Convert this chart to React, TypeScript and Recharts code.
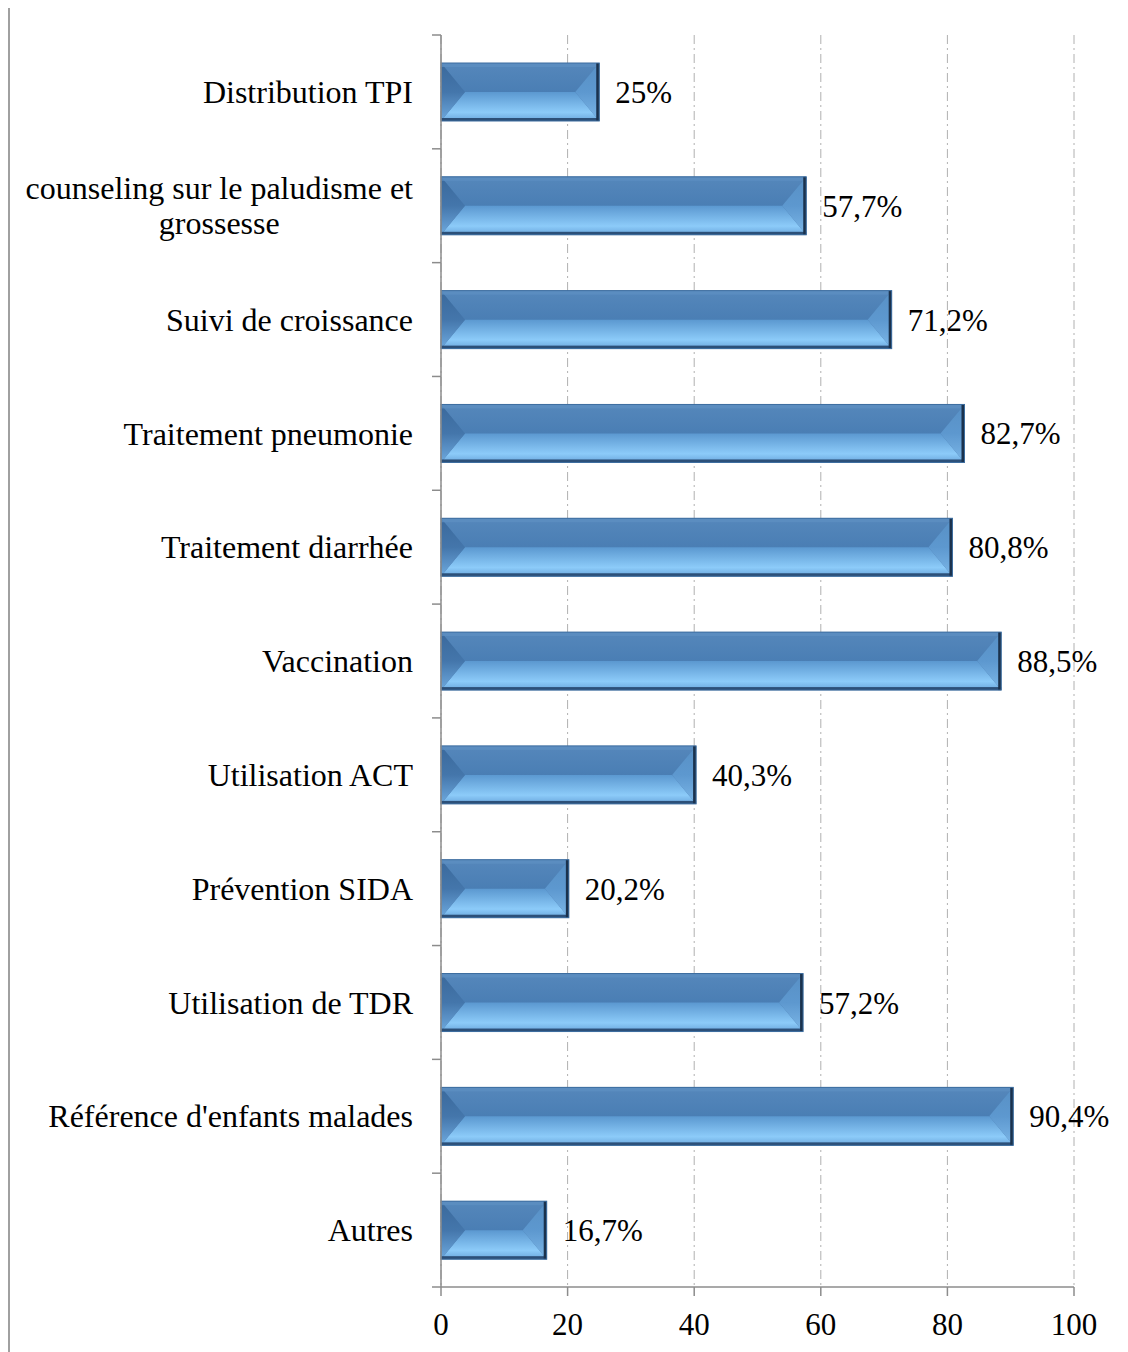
import { Bar, BarChart, CartesianGrid, LabelList, XAxis, YAxis } from "recharts";

const categories = [
  "Distribution TPI",
  "counseling sur le paludisme et grossesse",
  "Suivi de croissance",
  "Traitement pneumonie",
  "Traitement diarrhée",
  "Vaccination",
  "Utilisation ACT",
  "Prévention SIDA",
  "Utilisation de TDR",
  "Référence d'enfants malades",
  "Autres",
];
const percentages = [25, 57.7, 71.2, 82.7, 80.8, 88.5, 40.3, 20.2, 57.2, 90.4, 16.7];
const xTicks = [0, 20, 40, 60, 80, 100];

const data = categories.map((name, i) => ({ name, value: percentages[i] }));

const FONT = "'Liberation Serif', 'Times New Roman', serif";
const FONT_SIZE = 31;
const CAT_FONT_SIZE = 32;
const CHART_W = 1114;
const CHART_H = 1342;
const MARGIN = { top: 27, right: 50, bottom: 0, left: 0 };
const Y_AXIS_W = 431;
const X_AXIS_H = 63;
const PLOT_H = CHART_H - MARGIN.top - MARGIN.bottom - X_AXIS_H;
const HALF_BAND = PLOT_H / categories.length / 2;

let ctx: CanvasRenderingContext2D | null = null;
const measure = (s: string) => {
  if (!ctx) ctx = document.createElement("canvas").getContext("2d");
  if (!ctx) return s.length * 14;
  ctx.font = `${CAT_FONT_SIZE}px ${FONT}`;
  return ctx.measureText(s).width;
};

const wrap = (s: string, max = 30) => {
  const lines: string[] = [];
  let cur = "";
  s.split(" ").forEach((w) => {
    const next = cur ? `${cur} ${w}` : w;
    if (next.length > max && cur) {
      lines.push(cur);
      cur = w;
    } else cur = next;
  });
  if (cur) lines.push(cur);
  return lines;
};

const CategoryTick = (props: any) => {
  const { x, y, payload, index } = props;
  const lines = wrap(String(payload.value));
  const right = x - 28;
  const widest = Math.max(...lines.map(measure));
  const center = right - widest / 2;
  const lineH = 35;
  const start = y - ((lines.length - 1) * lineH) / 2;
  return (
    <g>
      <line x1={x - 9} x2={x} y1={y - HALF_BAND} y2={y - HALF_BAND} stroke="#8c8c8c" strokeWidth={1.5} />
      {index === categories.length - 1 ? (
        <line x1={x - 9} x2={x} y1={y + HALF_BAND} y2={y + HALF_BAND} stroke="#8c8c8c" strokeWidth={1.5} />
      ) : null}
      {lines.map((l, i) => (
        <text
          key={l}
          x={lines.length > 1 ? center : right}
          y={start + i * lineH}
          dy="0.35em"
          textAnchor={lines.length > 1 ? "middle" : "end"}
          fill="#000"
          fontSize={CAT_FONT_SIZE}
          fontFamily={FONT}
        >
          {l}
        </text>
      ))}
    </g>
  );
};

const BevelBar = (props: any) => {
  const { x, y, width: w, height: h } = props;
  if (!w || w <= 0) return null;
  const b = Math.min(24, w / 3);
  const mid = y + h / 2;
  return (
    <g>
      <rect x={x} y={y} width={w} height={h} fill="#4a7db2" />
      <polygon points={`${x},${y} ${x + w},${y} ${x + w - b},${mid} ${x + b},${mid}`} fill="url(#bvTop)" />
      <polygon points={`${x},${y + h} ${x + w},${y + h} ${x + w - b},${mid} ${x + b},${mid}`} fill="url(#bvBottom)" />
      <polygon points={`${x},${y} ${x + b},${mid} ${x},${y + h}`} fill="url(#bvLeft)" />
      <polygon points={`${x + w},${y} ${x + w - b},${mid} ${x + w},${y + h}`} fill="url(#bvRight)" />
      <rect x={x} y={y} width={w} height={4} fill="#5d8fc2" opacity={0.8} />
      <rect x={x} y={y + h - 3} width={w} height={3} fill="#2c5079" />
      <rect x={x + w - 3} y={y} width={3} height={h} fill="#1b324d" />
      <rect x={x} y={y} width={w} height={h} fill="none" stroke="#3d6d9f" strokeWidth={1} />
    </g>
  );
};

const fmt = (v: any) => `${String(v).replace(".", ",")}%`;

export default function App() {
  return (
    <div
      style={{
        width: CHART_W,
        height: CHART_H + 20,
        border: "2px solid #a0a0a0",
        marginTop: -2,
        background: "#fff",
      }}
    >
      <BarChart width={CHART_W} height={CHART_H} data={data} layout="vertical" margin={MARGIN}>
        <defs>
          <linearGradient id="bvTop" x1="0" y1="0" x2="0" y2="1">
            <stop offset="0" stopColor="#5587bb" />
            <stop offset="1" stopColor="#4a7eb4" />
          </linearGradient>
          <linearGradient id="bvBottom" x1="0" y1="0" x2="0" y2="1">
            <stop offset="0" stopColor="#5b98d0" />
            <stop offset="0.7" stopColor="#8ccbf9" />
            <stop offset="1" stopColor="#6aa6dc" />
          </linearGradient>
          <linearGradient id="bvLeft" x1="0" y1="0" x2="0" y2="1">
            <stop offset="0" stopColor="#3a699c" />
            <stop offset="0.5" stopColor="#4476ab" />
            <stop offset="1" stopColor="#6ea9de" />
          </linearGradient>
          <linearGradient id="bvRight" x1="0" y1="0" x2="0" y2="1">
            <stop offset="0" stopColor="#5890c5" />
            <stop offset="0.5" stopColor="#5d98cf" />
            <stop offset="1" stopColor="#7cb7e8" />
          </linearGradient>
        </defs>
        <CartesianGrid horizontal={false} stroke="#b0b0b0" strokeDasharray="9 4 2 4" />
        <XAxis
          type="number"
          domain={[0, 100]}
          ticks={xTicks}
          height={X_AXIS_H}
          axisLine={{ stroke: "#8c8c8c", strokeWidth: 1.5 }}
          tickLine={{ stroke: "#8c8c8c", strokeWidth: 1.5 }}
          tickSize={9}
          tickMargin={17}
          tick={{ fill: "#000", fontSize: FONT_SIZE, fontFamily: FONT }}
          interval={0}
        />
        <YAxis
          type="category"
          dataKey="name"
          width={Y_AXIS_W}
          axisLine={{ stroke: "#8c8c8c", strokeWidth: 1.5 }}
          tickLine={false}
          tickSize={0}
          tickMargin={0}
          tick={<CategoryTick />}
          interval={0}
        />
        <Bar dataKey="value" barSize={58} shape={<BevelBar />} isAnimationActive={false}>
          <LabelList
            dataKey="value"
            position="right"
            offset={16}
            formatter={fmt}
            fill="#000"
            fontSize={FONT_SIZE}
            fontFamily={FONT}
          />
        </Bar>
      </BarChart>
    </div>
  );
}
